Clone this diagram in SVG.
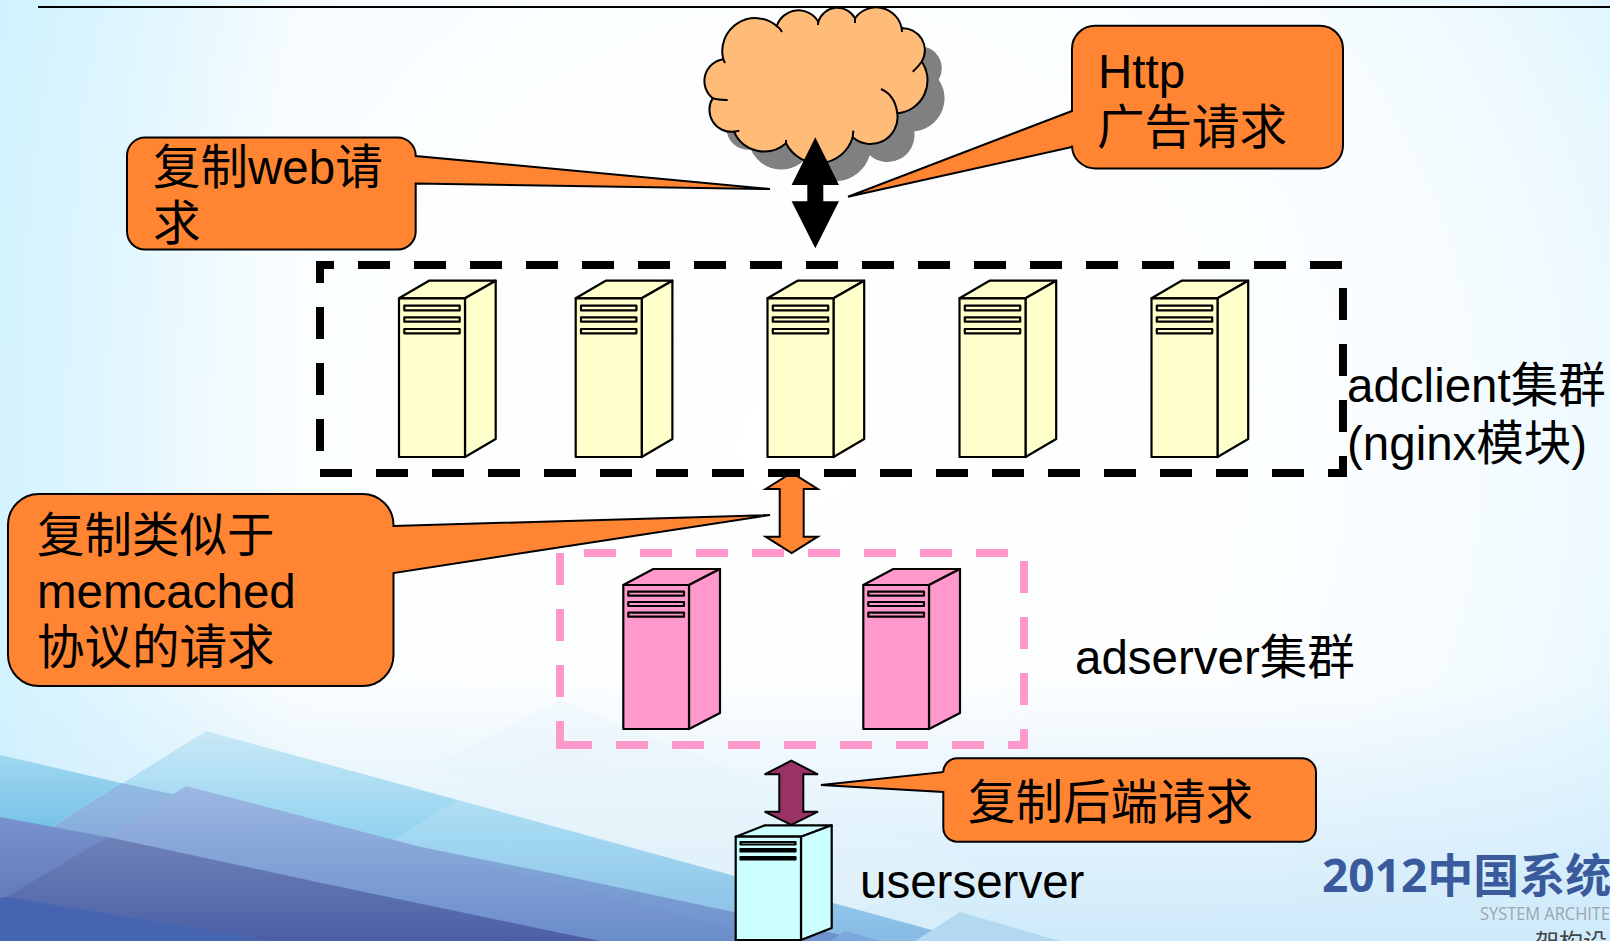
<svg xmlns="http://www.w3.org/2000/svg" width="1610" height="941" viewBox="0 0 1610 941">
<style>
text{font-family:"Liberation Sans","Noto Sans CJK SC",sans-serif;font-size:47.5px;fill:#000}
.srv rect,.srv path{stroke:#000;stroke-width:2.2;stroke-linejoin:round}
.call{fill:#ff8533;stroke:#000;stroke-width:2;stroke-linejoin:miter}
.grp{fill:none;stroke-width:8;stroke-dasharray:32 24}
.arrow{stroke:#000;stroke-width:2;stroke-linejoin:miter}
</style>
<defs>
<radialGradient id="bg" gradientUnits="userSpaceOnUse" cx="800" cy="450" r="1000">
<stop offset="0" stop-color="#fff"/><stop offset=".6" stop-color="#fafdff"/><stop offset=".8" stop-color="#eefaff"/><stop offset="1" stop-color="#d8f4ff"/>
</radialGradient>
<linearGradient id="leftO" x1="0" x2="1" y1="0" y2="0"><stop offset="0" stop-color="#c8f0ff" stop-opacity=".7"/><stop offset="1" stop-color="#c8f0ff" stop-opacity="0"/></linearGradient>
<linearGradient id="botO" x1="0" x2="0" y1="0" y2="1"><stop offset="0" stop-color="#cfeafa" stop-opacity="0"/><stop offset="1" stop-color="#cfeafa"/></linearGradient>
<linearGradient id="a" gradientUnits="userSpaceOnUse" x1="0" x2="0" y1="731" y2="941"><stop offset="0" stop-color="#c8e8f6"/><stop offset=".5" stop-color="#93d2f0"/><stop offset="1" stop-color="#72aee0"/></linearGradient>
<linearGradient id="bl" gradientUnits="userSpaceOnUse" x1="0" x2="0" y1="755" y2="860"><stop offset="0" stop-color="#9fd8f0"/><stop offset="1" stop-color="#66b8e4"/></linearGradient>
<linearGradient id="b" gradientUnits="userSpaceOnUse" x1="0" x2="0" y1="783" y2="941"><stop offset="0" stop-color="#93bbe2"/><stop offset="1" stop-color="#6e90cc"/></linearGradient>
<linearGradient id="c" gradientUnits="userSpaceOnUse" x1="0" x2="0" y1="786" y2="941"><stop offset="0" stop-color="#9cb8e2"/><stop offset="1" stop-color="#6a8cca"/></linearGradient>
<linearGradient id="e" gradientUnits="userSpaceOnUse" x1="0" x2="0" y1="817" y2="941"><stop offset="0" stop-color="#7793cd"/><stop offset="1" stop-color="#5a6eb2"/></linearGradient>
<linearGradient id="g" gradientUnits="userSpaceOnUse" x1="0" x2="0" y1="837" y2="941"><stop offset="0" stop-color="#6e82b8"/><stop offset="1" stop-color="#4c5fa6"/></linearGradient>
<g id="srvY" class="srv">
<path d="M0 0L30 -17.6H96.7L66 0Z"/><path d="M66 0L96.7 -17.6V140.7L66 158.7Z"/><rect width="66" height="158.7"/>
<rect x="5.3" y="7.4" width="55.4" height="4.6"/><rect x="5.3" y="19" width="55.4" height="4.4"/><rect x="5.3" y="30.7" width="55.4" height="4.3" fill-opacity=".7"/>
</g>
<g id="srvP" class="srv">
<path d="M0 0L30 -16H96.7L65.7 0Z"/><path d="M65.7 0L96.7 -16V128L65.7 144Z"/><rect width="65.7" height="144"/>
<rect x="5" y="6.7" width="55.7" height="4"/><rect x="5" y="17" width="55.7" height="4" fill-opacity=".6"/><rect x="5" y="27.7" width="55.7" height="4"/>
</g>
</defs>
<rect width="1610" height="941" fill="url(#bg)"/>
<rect width="300" height="941" fill="url(#leftO)"/>
<rect y="680" width="1610" height="261" fill="url(#botO)"/>
<g id="background-shapes">
<path d="M432 765L560 700L980 870L800 930Z" fill="#e6f5fb" opacity=".4"/>
<path d="M206 731L972 941H0V860Z" fill="url(#a)"/>
<path d="M0 755L121 783L0 860Z" fill="url(#bl)"/>
<path d="M329 880L457 800L560 743L1010 941H329Z" fill="#e8f4fb" opacity=".18"/>
<path d="M121 783L386 840L560 875L870 941H0V860Z" fill="url(#b)"/>
<path d="M186 786L560 883L780 941H0V897L107 837Z" fill="url(#c)"/>
<path d="M0 817L107 837L321 883L560 933L600 941H0Z" fill="url(#e)"/>
<path d="M107 837L321 883L560 933L600 941H271L7 897Z" fill="url(#g)"/>
<path d="M0 898L7 897L271 941H0Z" fill="#4565b0"/>
<path d="M845 931L880 941H830Z" fill="#7aa8dc"/>
<path d="M960 912L1060 941H915Z" fill="#b2d9f0"/>
</g>
<path id="rule" d="M38 7H1610" stroke="#000" stroke-width="2" fill="none"/>
<g id="cloud">
<path transform="translate(17 18)" fill="#808080" d="M723.3 59.3A33 33 0 0 1 776.7 26A23 23 0 0 1 818.3 21.7A20 20 0 0 1 855 18.3A26 26 0 0 1 901.7 28.3A22 22 0 0 1 921.7 61.7A33 33 0 0 1 897.3 113.3A27 27 0 0 1 852.7 137.3A36 36 0 0 1 786 143.3A33 33 0 0 1 734 131.7A22 22 0 0 1 712.7 98.3A22 22 0 0 1 723.3 59.3Z"/>
<path fill="#ffbb78" stroke="#000" stroke-width="2" d="M723.3 59.3A33 33 0 0 1 776.7 26A23 23 0 0 1 818.3 21.7A20 20 0 0 1 855 18.3A26 26 0 0 1 901.7 28.3A22 22 0 0 1 921.7 61.7A33 33 0 0 1 897.3 113.3A27 27 0 0 1 852.7 137.3A36 36 0 0 1 786 143.3A33 33 0 0 1 734 131.7A22 22 0 0 1 712.7 98.3A22 22 0 0 1 723.3 59.3Z"/>
<path fill="none" stroke="#000" stroke-width="2" d="M776.7 26Q780 28 782 32M818.3 21.7L818 25M855 18.3L855 23M901.7 28.3L902 32M921.7 61.7Q918 67 912.7 71.7M881 89Q895 95 897.3 113.3M852.7 137.3L853.3 130.7M786 143.3L786 140M734 131.7L739.3 130.7M712.7 98.3Q718 100 727.7 100M723.3 59.3L725 63"/>
</g>
<g id="connectors">
<path fill="#000" d="M815.3 137.3L839 185H823.3V201.3H839L815.3 248.3L791.6 201.3H807.3V185H791.6Z"/>
<path class="arrow" fill="#ff8533" d="M791.7 472.7L817.7 489H803.7V536.7H817.7L791.7 553L765.7 536.7H779.7V489H765.7Z"/>
<path class="arrow" fill="#993366" d="M791.3 760.7L818 774.3H803.3V811.7H818L791.3 825L764.6 811.7H779.3V774.3H764.6Z"/>
</g>
<g id="adclient-group"><path class="grp" stroke="#000" d="M320 473H1343V265H320Z"/></g>
<g id="adserver-group"><path class="grp" stroke="#ff99cc" d="M560 745H1024V553H560Z"/></g>
<g id="adclient-1" transform="translate(399 298.3)"><use href="#srvY" fill="#ffffcc"/></g>
<g id="adclient-2" transform="translate(575.7 298.3)"><use href="#srvY" fill="#ffffcc"/></g>
<g id="adclient-3" transform="translate(767.5 298.3)"><use href="#srvY" fill="#ffffcc"/></g>
<g id="adclient-4" transform="translate(959.5 298.3)"><use href="#srvY" fill="#ffffcc"/></g>
<g id="adclient-5" transform="translate(1151.5 298.3)"><use href="#srvY" fill="#ffffcc"/></g>
<g id="adserver-1" transform="translate(623.3 585)"><use href="#srvP" fill="#ff99cc"/></g>
<g id="adserver-2" transform="translate(863.3 585)"><use href="#srvP" fill="#ff99cc"/></g>
<g id="userserver-node" class="srv" fill="#ccffff">
<path d="M735.7 836.7L765 825.3H831.7L801 836.7Z"/><path d="M801 836.7L831.7 825.3V928L801 940Z"/><rect x="735.7" y="836.7" width="65.3" height="103.3"/>
<rect x="740.5" y="842" width="55" height="2.5"/><rect x="740.5" y="849" width="55" height="2.5" fill="#000"/><rect x="740.5" y="857" width="55" height="2.5" fill="#000"/>
</g>
<g id="callout-web">
<path class="call" d="M145 137.6H397.7A18 18 0 0 1 415.7 155.6V156L770 189L415.7 183.6V231.6A18 18 0 0 1 397.7 249.6H145A18 18 0 0 1 127 231.6V155.6A18 18 0 0 1 145 137.6Z"/>
<text x="153" y="184">复制web请</text><text x="153" y="240">求</text>
</g>
<g id="callout-http">
<path class="call" d="M1095 25.7H1320A23 23 0 0 1 1343 48.7V145.4A23 23 0 0 1 1320 168.4H1095A23 23 0 0 1 1072 145.4V147L848 196.7L1072 111V48.7A23 23 0 0 1 1095 25.7Z"/>
<text x="1098" y="88">Http</text><text x="1097" y="144">广告请求</text>
</g>
<g id="callout-memcached">
<path class="call" d="M39 494H362.5A31 31 0 0 1 393.5 525V526L770 515L393.5 573V655A31 31 0 0 1 362.5 686H39A31 31 0 0 1 8 655V525A31 31 0 0 1 39 494Z"/>
<text x="37" y="552">复制类似于</text><text x="37" y="608">memcached</text><text x="37" y="664">协议的请求</text>
</g>
<g id="callout-backend">
<path class="call" d="M957 758.3H1302A14 14 0 0 1 1316 772.3V827.7A14 14 0 0 1 1302 841.7H957A14 14 0 0 1 943.3 827.7V792L821 785L943.3 772V772.3A14 14 0 0 1 957 758.3Z"/>
<text x="968" y="819">复制后端请求</text>
</g>
<g id="labels">
<text x="1347" y="402">adclient集群</text>
<text x="1347" y="460">(nginx模块)</text>
<text x="1075" y="674">adserver集群</text>
<text x="860" y="898">userserver</text>
</g>
<g id="logo">
<text x="1322" y="892" style="font-family:'Noto Sans','Noto Sans CJK SC',sans-serif;font-size:46px;font-weight:700;fill:#3a5a9c">2012中国系统</text>
<text x="1480" y="920" textLength="130" lengthAdjust="spacingAndGlyphs" style="font-family:'Open Sans',sans-serif;font-size:17.5px;fill:#9aa6b0">SYSTEM ARCHITE</text>
<text x="1535" y="951" style="font-family:'Noto Sans CJK SC',sans-serif;font-size:24px;fill:#444">架构设</text>
</g>
</svg>
